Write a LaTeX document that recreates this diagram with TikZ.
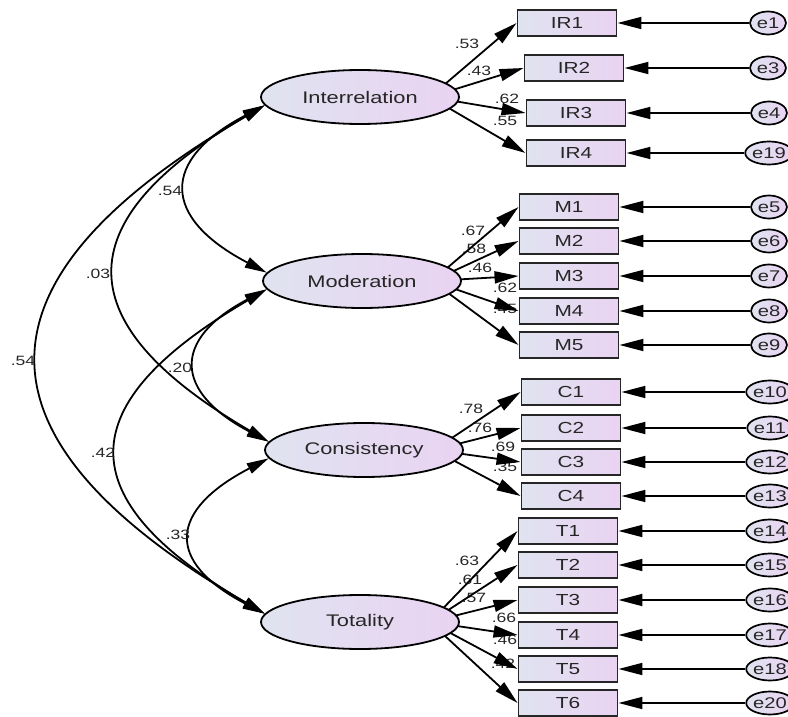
\documentclass[tikz,border=0pt]{standalone}
\usepackage{fontspec}
\newfontfamily\semfont[FakeStretch=1.3]{Liberation Sans}
\usetikzlibrary{arrows.meta, shapes.geometric, backgrounds}
\definecolor{shadeL}{RGB}{224,227,240}
\definecolor{shadeR}{RGB}{233,211,242}

\begin{document}
\begin{tikzpicture}[
  x=1pt, y=-1pt,
  latent/.style={ellipse, draw=black, line width=1.8pt, minimum width=198pt, minimum height=54pt,
    left color=shadeL, right color=shadeR, text=black!85, font=\semfont\fontsize{16.8}{18}\selectfont},
  item/.style={rectangle, draw=black!85, line width=1.9pt, minimum width=99pt, minimum height=26pt,
    left color=shadeL, right color=shadeR, text=black!85, font=\semfont\fontsize{16}{18}\selectfont},
  err/.style={ellipse, draw=black, line width=1.7pt, minimum width=36pt, minimum height=23pt, inner sep=0pt,
    left color=shadeL, right color=shadeR, text=black!85, font=\semfont\fontsize{15.5}{16}\selectfont},
  coef/.style={font=\semfont\fontsize{13.5}{14}\selectfont, text=black!85, inner sep=0pt},
  arr/.style={-{Triangle[length=24pt, width=12pt]}, line width=1.8pt},
  cov/.style={{Triangle[length=22pt, width=11pt]}-{Triangle[length=22pt, width=11pt]}, line width=1.8pt}
]
\useasboundingbox (0,0) rectangle (788,717);

\node[latent] (int) at (360,97) {Interrelation};
\node[latent] (mod) at (362,281) {Moderation};
\node[latent] (con) at (364,450) {Consistency};
\node[latent] (tot) at (360,622) {Totality};

\node[item] (ir1) at (567,23) {IR1};
\node[item] (ir2) at (574,68) {IR2};
\node[item] (ir3) at (576,113) {IR3};
\node[item] (ir4) at (576,153) {IR4};
\node[item] (m1) at (569,207) {M1};
\node[item] (m2) at (569,241) {M2};
\node[item] (m3) at (569,276) {M3};
\node[item] (m4) at (569,311) {M4};
\node[item] (m5) at (569,345) {M5};
\node[item] (c1) at (571,392) {C1};
\node[item] (c2) at (571,428) {C2};
\node[item] (c3) at (571,462) {C3};
\node[item] (c4) at (571,496) {C4};
\node[item] (t1) at (568,531) {T1};
\node[item] (t2) at (568,565) {T2};
\node[item] (t3) at (568,600) {T3};
\node[item] (t4) at (568,635) {T4};
\node[item] (t5) at (568,669) {T5};
\node[item] (t6) at (568,703) {T6};

\node[err] (e1) at (768,23) {e1};
\node[err] (e3) at (768,68) {e3};
\node[err] (e4) at (769,113) {e4};
\node[err] (e19) at (769,153) {e19};
\node[err] (e5) at (769,207) {e5};
\node[err] (e6) at (769,241) {e6};
\node[err] (e7) at (769,276) {e7};
\node[err] (e8) at (769,311) {e8};
\node[err] (e9) at (769,345) {e9};
\node[err] (e10) at (770,392) {e10};
\node[err] (e11) at (770,428) {e11};
\node[err] (e12) at (770,462) {e12};
\node[err] (e13) at (770,496) {e13};
\node[err] (e14) at (770,531) {e14};
\node[err] (e15) at (770,565) {e15};
\node[err] (e16) at (770,600) {e16};
\node[err] (e17) at (770,635) {e17};
\node[err] (e18) at (770,669) {e18};
\node[err] (e20) at (770,703) {e20};

\draw[arr] (e1) -- (ir1);
\draw[arr] (e3) -- (ir2);
\draw[arr] (e4) -- (ir3);
\draw[arr] (e19) -- (ir4);
\draw[arr] (e5) -- (m1);
\draw[arr] (e6) -- (m2);
\draw[arr] (e7) -- (m3);
\draw[arr] (e8) -- (m4);
\draw[arr] (e9) -- (m5);
\draw[arr] (e10) -- (c1);
\draw[arr] (e11) -- (c2);
\draw[arr] (e12) -- (c3);
\draw[arr] (e13) -- (c4);
\draw[arr] (e14) -- (t1);
\draw[arr] (e15) -- (t2);
\draw[arr] (e16) -- (t3);
\draw[arr] (e17) -- (t4);
\draw[arr] (e18) -- (t5);
\draw[arr] (e20) -- (t6);

\begin{scope}[on background layer]
  \node[coef] at (467,44) {.53};
  \node[coef] at (479,71) {.43};
  \node[coef] at (507,99) {.62};
  \node[coef] at (505,121) {.55};
  \node[coef] at (473,231) {.67};
  \node[coef] at (474,249) {.58};
  \node[coef] at (480,268) {.46};
  \node[coef] at (505,288) {.62};
  \node[coef] at (505,309) {.45};
  \node[coef] at (471,409) {.78};
  \node[coef] at (480,428) {.76};
  \node[coef] at (503,447) {.69};
  \node[coef] at (505,467) {.35};
  \node[coef] at (467,561) {.63};
  \node[coef] at (470,580) {.61};
  \node[coef] at (474,598) {.57};
  \node[coef] at (504,618) {.66};
  \node[coef] at (505,640) {.46};
  \node[coef] at (503,664) {.42};

  \draw[arr] ([xshift=-30pt]int.east) -- (ir1.west);
  \draw[arr] ([xshift=-30pt]int.east) -- (ir2.west);
  \draw[arr] ([xshift=-30pt]int.east) -- (ir3.west);
  \draw[arr] ([xshift=-30pt]int.east) -- (ir4.west);
  \draw[arr] ([xshift=-30pt]mod.east) -- (m1.west);
  \draw[arr] ([xshift=-30pt]mod.east) -- (m2.west);
  \draw[arr] ([xshift=-30pt]mod.east) -- (m3.west);
  \draw[arr] ([xshift=-30pt]mod.east) -- (m4.west);
  \draw[arr] ([xshift=-30pt]mod.east) -- (m5.west);
  \draw[arr] ([xshift=-30pt]con.east) -- (c1.west);
  \draw[arr] ([xshift=-30pt]con.east) -- (c2.west);
  \draw[arr] ([xshift=-30pt]con.east) -- (c3.west);
  \draw[arr] ([xshift=-30pt]con.east) -- (c4.west);
  \draw[arr] ([xshift=-30pt]tot.east) -- (t1.west);
  \draw[arr] ([xshift=-30pt]tot.east) -- (t2.west);
  \draw[arr] ([xshift=-30pt]tot.east) -- (t3.west);
  \draw[arr] ([xshift=-30pt]tot.east) -- (t4.west);
  \draw[arr] ([xshift=-30pt]tot.east) -- (t5.west);
  \draw[arr] ([xshift=-30pt]tot.east) -- (t6.west);
\end{scope}

\draw[cov] (int.185) .. controls +(-105,55) and +(-105,-55) .. (mod.175);
\draw[cov] (int.185) .. controls +(-201,117) and +(-201,-117) .. (con.175);
\draw[cov] (int.185) .. controls +(-301,175) and +(-301,-175) .. (tot.175);
\draw[cov] (mod.185) .. controls +(-95,50) and +(-95,-50) .. (con.175);
\draw[cov] (mod.185) .. controls +(-197,115) and +(-197,-115) .. (tot.175);
\draw[cov] (con.185) .. controls +(-100,52) and +(-100,-52) .. (tot.175);

\node[coef] (k1) at (170,191) {.54};
\node[coef] (k2) at (98,274) {.03};
\node[coef] (k3) at (23,361) {.54};
\node[coef] (k4) at (180,368) {.20};
\node[coef] (k5) at (103,453) {.42};
\node[coef] (k6) at (178,535) {.33};
\end{tikzpicture}
\end{document}
